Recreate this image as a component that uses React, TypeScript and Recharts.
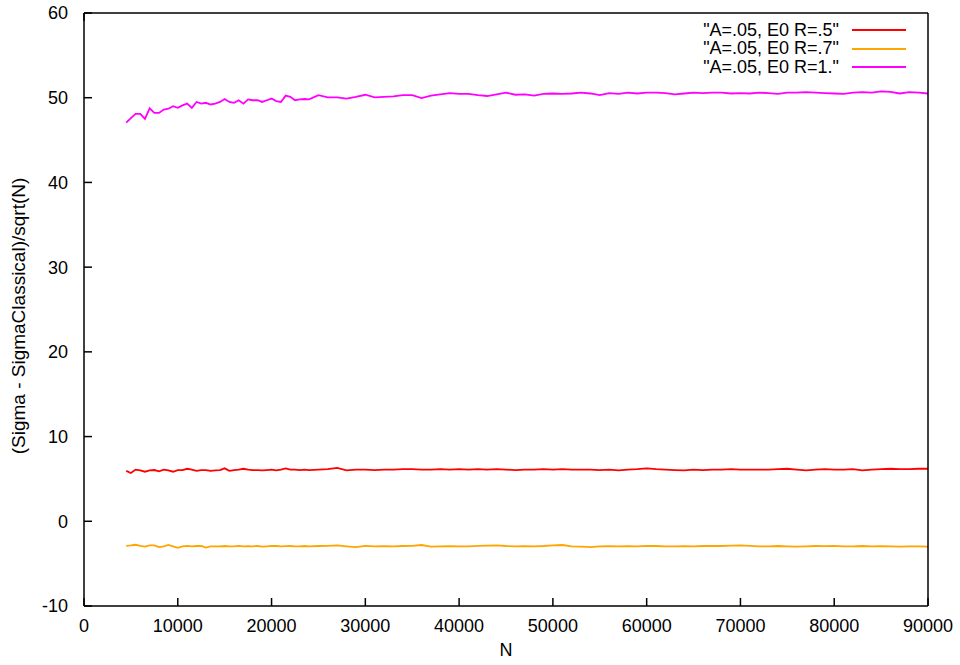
import { LineChart, Line, XAxis, YAxis, Legend } from 'recharts';

// N sample points: 500 steps at the start, 1000 steps after 24000
const nValues = [
  4500, 5000, 5500, 6000, 6500, 7000, 7500, 8000, 8500, 9000,
  9500, 10000, 10500, 11000, 11500, 12000, 12500, 13000, 13500, 14000,
  14500, 15000, 15500, 16000, 16500, 17000, 17500, 18000, 18500, 19000,
  19500, 20000, 20500, 21000, 21500, 22000, 22500, 23000, 23500, 24000,
  25000, 26000, 27000, 28000, 29000, 30000, 31000, 32000, 33000, 34000,
  35000, 36000, 37000, 38000, 39000, 40000, 41000, 42000, 43000, 44000,
  45000, 46000, 47000, 48000, 49000, 50000, 51000, 52000, 53000, 54000,
  55000, 56000, 57000, 58000, 59000, 60000, 61000, 62000, 63000, 64000,
  65000, 66000, 67000, 68000, 69000, 70000, 71000, 72000, 73000, 74000,
  75000, 76000, 77000, 78000, 79000, 80000, 81000, 82000, 83000, 84000,
  85000, 86000, 87000, 88000, 89000, 90000,
];

const r05 = [
  5.95, 5.7, 6.1, 6.0, 5.85, 6.0, 6.05, 5.9, 6.1, 6.0,
  5.85, 6.05, 6.05, 6.2, 6.1, 5.95, 6.05, 6.05, 5.95, 6.0,
  6.05, 6.25, 5.95, 6.05, 6.1, 6.2, 6.1, 6.05, 6.05, 6.0,
  6.05, 6.1, 6.0, 6.1, 6.25, 6.1, 6.1, 6.05, 6.1, 6.05,
  6.1, 6.15, 6.3, 6.0, 6.1, 6.1, 6.05, 6.1, 6.1, 6.15,
  6.15, 6.1, 6.1, 6.15, 6.1, 6.15, 6.1, 6.15, 6.1, 6.15,
  6.1, 6.05, 6.1, 6.1, 6.15, 6.1, 6.15, 6.1, 6.1, 6.1,
  6.05, 6.1, 6.0, 6.1, 6.15, 6.25, 6.15, 6.1, 6.05, 6.0,
  6.1, 6.05, 6.1, 6.1, 6.15, 6.1, 6.1, 6.1, 6.1, 6.15,
  6.2, 6.1, 6.0, 6.1, 6.15, 6.1, 6.1, 6.15, 6.0, 6.1,
  6.15, 6.2, 6.15, 6.15, 6.2, 6.2,
];

const r07 = [
  -2.9, -2.85, -2.77, -2.9, -3.0, -2.85, -2.85, -3.05, -2.95, -2.8,
  -2.95, -3.13, -2.95, -2.9, -2.95, -2.92, -2.9, -3.1, -2.95, -2.95,
  -2.95, -2.92, -2.95, -2.95, -2.9, -2.95, -2.93, -2.95, -2.92, -3.0,
  -2.95, -2.9, -2.92, -2.95, -2.93, -2.92, -2.95, -2.95, -2.92, -2.95,
  -2.92, -2.9, -2.85, -2.95, -3.05, -2.9, -2.95, -2.93, -2.95, -2.92,
  -2.9, -2.8, -3.0, -2.95, -2.93, -2.95, -2.95, -2.9, -2.88, -2.85,
  -2.92, -2.95, -2.93, -2.95, -2.92, -2.85, -2.8, -2.95, -3.0, -3.05,
  -2.95, -2.93, -2.95, -2.93, -2.95, -2.9, -2.92, -2.95, -2.95, -2.93,
  -2.95, -2.92, -2.9, -2.92, -2.88, -2.85, -2.9, -2.95, -2.95, -2.92,
  -2.95, -3.0, -2.95, -2.92, -2.93, -2.9, -2.95, -2.95, -2.92, -2.95,
  -2.93, -2.95, -3.0, -2.95, -2.95, -3.0,
];

const r10 = [
  47.05, 47.6, 48.1, 48.1, 47.5, 48.75, 48.2, 48.2, 48.6, 48.7,
  49.0, 48.8, 49.1, 49.3, 48.8, 49.5, 49.3, 49.4, 49.2, 49.3,
  49.5, 49.85, 49.5, 49.4, 49.7, 49.3, 49.8, 49.7, 49.7, 49.5,
  49.7, 49.9, 49.6, 49.5, 50.25, 50.1, 49.7, 49.8, 49.85, 49.8,
  50.3, 50.05, 50.05, 49.9, 50.1, 50.35, 50.05, 50.1, 50.15, 50.3,
  50.3, 49.95, 50.25, 50.4, 50.55, 50.45, 50.45, 50.3, 50.2, 50.4,
  50.6, 50.35, 50.4, 50.25, 50.45, 50.5, 50.45, 50.5, 50.6, 50.5,
  50.3, 50.55, 50.45, 50.6, 50.5, 50.6, 50.6, 50.55, 50.4, 50.5,
  50.6, 50.55, 50.6, 50.6, 50.5, 50.55, 50.5, 50.6, 50.55, 50.45,
  50.6, 50.6, 50.65, 50.6, 50.55, 50.5, 50.45, 50.6, 50.65, 50.6,
  50.75, 50.7, 50.5, 50.65, 50.6, 50.5,
];

const xTicks = [0, 10000, 20000, 30000, 40000, 50000, 60000, 70000, 80000, 90000];
const yTicks = [-10, 0, 10, 20, 30, 40, 50, 60];

const seriesNames = ['"A=.05, E0 R=.5"', '"A=.05, E0 R=.7"', '"A=.05, E0 R=1."'];
const seriesKeys = ['r05', 'r07', 'r10'];
const seriesColors = ['#ff0000', '#ffa500', '#ff00ff'];

const data = nValues.map((n, i) => ({ n, r05: r05[i], r07: r07[i], r10: r10[i] }));

const FONT = '"Liberation Sans", Arial, sans-serif';
const tickStyle = { fontSize: 18, fill: '#000', fontFamily: FONT };

function KeyBox() {
  return (
    <div style={{ fontFamily: FONT, fontSize: 18, color: '#000' }}>
      {seriesNames.map((name, i) => (
        <div key={name} style={{ display: 'flex', alignItems: 'center', justifyContent: 'flex-end', height: 18.5 }}>
          <span style={{ whiteSpace: 'nowrap' }}>{name}</span>
          <span style={{ display: 'inline-block', width: 54, height: 2, marginLeft: 13, background: seriesColors[i] }} />
        </div>
      ))}
    </div>
  );
}

export default function App() {
  return (
    <div style={{ position: 'absolute', left: 0, top: 0, width: 960, height: 665, background: '#fff', fontFamily: FONT }}>
      <LineChart width={960} height={665} data={data} margin={{ top: 0, right: 0, bottom: 0, left: 0 }}>
        <XAxis
          dataKey="n"
          type="number"
          domain={[0, 90000]}
          ticks={xTicks}
          interval={0}
          height={59}
          tickSize={-8}
          tickMargin={21}
          tick={tickStyle}
          stroke="#000"
          strokeWidth={1.5}
        />
        <XAxis
          xAxisId="top"
          orientation="top"
          type="number"
          domain={[0, 90000]}
          ticks={xTicks}
          interval={0}
          height={13}
          tickSize={-8}
          tickFormatter={() => ''}
          stroke="#000"
          strokeWidth={1.5}
        />
        <YAxis
          type="number"
          domain={[-10, 60]}
          ticks={yTicks}
          interval={0}
          width={84}
          tickSize={-8}
          tickMargin={24}
          tick={tickStyle}
          stroke="#000"
          strokeWidth={1.5}
        />
        <YAxis
          yAxisId="right"
          orientation="right"
          type="number"
          domain={[-10, 60]}
          ticks={yTicks}
          interval={0}
          width={32}
          tickSize={-8}
          tickFormatter={() => ''}
          stroke="#000"
          strokeWidth={1.5}
        />
        <Legend
          layout="vertical"
          align="center"
          verticalAlign="middle"
          content={() => <KeyBox />}
          wrapperStyle={{ top: 21, left: 'auto', right: 54, width: 'auto' }}
        />
        {seriesKeys.map((key, i) => (
          <Line
            key={key}
            dataKey={key}
            name={seriesNames[i]}
            stroke={seriesColors[i]}
            strokeWidth={1.8}
            dot={false}
            isAnimationActive={false}
          />
        ))}
      </LineChart>
      <div style={{ position: 'absolute', left: 0, top: 640, width: 1012, textAlign: 'center', fontSize: 18 }}>N</div>
      <div
        style={{
          position: 'absolute',
          left: 19,
          top: 316,
          transform: 'translate(-50%, -50%) rotate(-90deg)',
          whiteSpace: 'nowrap',
          fontSize: 19,
        }}
      >
        (Sigma - SigmaClassical)/sqrt(N)
      </div>
    </div>
  );
}
